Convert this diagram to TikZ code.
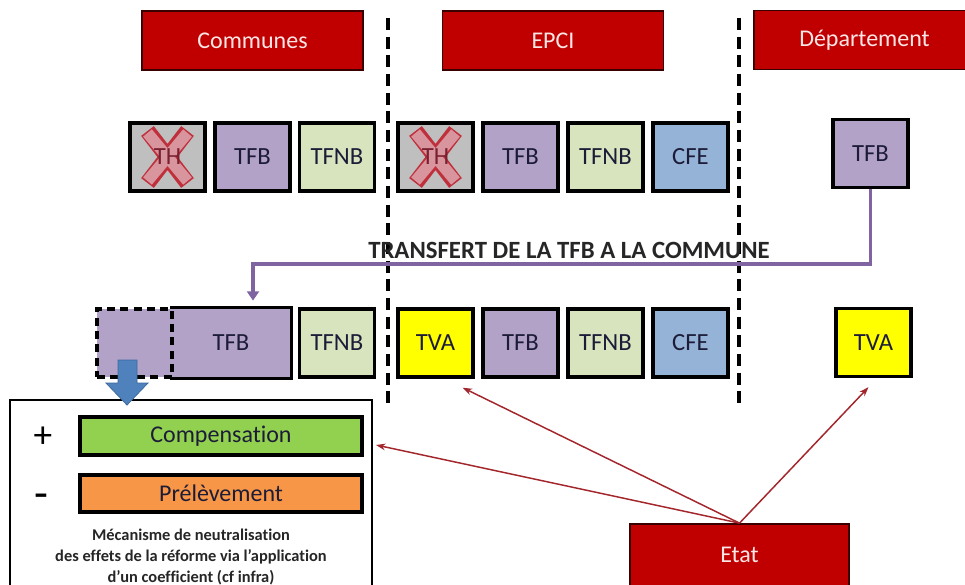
\documentclass[tikz,border=0pt]{standalone}
\usepackage{fontspec}
\setmainfont{Carlito}[Ligatures=NoCommon]
\usetikzlibrary{arrows.meta,calc}
\definecolor{hdr}{HTML}{C00000}
\definecolor{hdrdark}{HTML}{3A0000}
\definecolor{hdrtxt}{HTML}{FBE6E6}
\definecolor{tfbc}{HTML}{B3A2C7}
\definecolor{tfnbc}{HTML}{D7E4BD}
\definecolor{cfec}{HTML}{95B3D7}
\definecolor{tvac}{HTML}{FFFF00}
\definecolor{thc}{HTML}{BFBFBF}
\definecolor{compc}{HTML}{92D050}
\definecolor{prelc}{HTML}{F79646}
\definecolor{bluec}{HTML}{4F81BD}
\definecolor{bluedark}{HTML}{3C6A9E}
\definecolor{purpline}{HTML}{8064A2}
\definecolor{redarrow}{HTML}{A3262C}
\definecolor{txtc}{HTML}{1C1C38}
\definecolor{xred}{HTML}{C0303C}
\definecolor{xpink}{HTML}{D9959D}
\definecolor{thtxt}{HTML}{7A2030}
\tikzset{
  header/.style={fill=hdr, draw=hdrdark, line width=1.3pt, minimum width=165.75pt, minimum height=44.25pt, inner sep=0pt, text=hdrtxt, font=\fontsize{18}{21}\selectfont},
  taxbox/.style={draw=black, line width=2.6pt, minimum width=56.25pt, minimum height=51pt, inner sep=0pt, text=txtc, font=\fontsize{18.5}{21}\selectfont},
  sepline/.style={line width=2.3pt, dash pattern=on 9pt off 5pt},
  purparrow/.style={draw=purpline, line width=2.3pt, -{Triangle[width=9pt,length=7pt]}},
  redarr/.style={draw=redarrow, line width=1.1pt, -{Stealth[width=5pt,length=7pt]}},
  bigbar/.style={draw=black, line width=2.4pt, minimum width=211.5pt, inner sep=0pt, text=txtc, font=\fontsize{18}{21}\selectfont},
}
\begin{document}
\begin{tikzpicture}[x=0.75pt,y=-0.75pt]
\useasboundingbox (0,0) rectangle (965,585);
\clip (0,0) rectangle (965,585);
\fill[white] (0,0) rectangle (965,585);

% separators
\draw[sepline] (388,18) -- (388,403);
\draw[sepline] (739,18) -- (739,405);

% headers
\node[header] (communes) at (252.5,40.5) {Communes};
\node[header] (epci) at (553,40.5) {EPCI};
\node[header] (dept) at (864.5,40) {Département};

% row 1
\node[taxbox, fill=thc] (th1) at (167.5,157) {};
\node[taxbox, fill=tfbc] (tfb1) at (252.5,157) {TFB};
\node[taxbox, fill=tfnbc] (tfnb1) at (337,157) {TFNB};
\node[taxbox, fill=thc] (th2) at (435.5,157) {};
\node[taxbox, fill=tfbc] (tfb2) at (520.5,157) {TFB};
\node[taxbox, fill=tfnbc] (tfnb2) at (605.5,157) {TFNB};
\node[taxbox, fill=cfec] (cfe1) at (690.5,157) {CFE};
\node[taxbox, fill=tfbc] (dtfb) at (870.5,153.5) {TFB};

% crosses over TH
\foreach \c in {th1,th2}{
  \draw[xred, line width=12pt] ($(\c)+(-20,-26)$) -- ($(\c)+(20,26)$) ($(\c)+(20,-26)$) -- ($(\c)+(-20,26)$);
  \draw[xpink, line width=8.5pt] ($(\c)+(-20,-24)$) -- ($(\c)+(20,24)$) ($(\c)+(20,-24)$) -- ($(\c)+(-20,24)$);
  \node[text=thtxt, font=\fontsize{18.5}{21}\selectfont] at (\c) {TH};
}

% row 2
\node[taxbox, draw=none, fill=tfbc, minimum width=88.5pt] (ctfb) at (231,343) {TFB};
\draw[black, line width=2.6pt] (ctfb.north west) -- (ctfb.north east) -- (ctfb.south east) -- (ctfb.south west);
\node[taxbox, fill=tfbc, dash pattern=on 6pt off 4pt] (ctfbd) at (134.5,343) {};
\node[taxbox, fill=tfnbc] (tfnb3) at (337,343) {TFNB};
\node[taxbox, fill=tvac] (tva1) at (435.5,343) {TVA};
\node[taxbox, fill=tfbc] (tfb3) at (520.5,343) {TFB};
\node[taxbox, fill=tfnbc] (tfnb4) at (605.5,343) {TFNB};
\node[taxbox, fill=cfec] (cfe2) at (690.5,343) {CFE};
\node[taxbox, fill=tvac] (dtva) at (873.5,342.5) {TVA};

% transfer
\coordinate (turn) at (253,264);
\draw[purparrow, shorten >=5pt] (dtfb.south) |- (turn) -- (turn |- ctfb.north);
\node[font=\bfseries\fontsize{18.6}{21}\selectfont, text=black!85] (transfert) at (569,250) {TRANSFERT DE LA TFB A LA COMMUNE};

% neutralisation box
\node[draw=black, line width=1.6pt, fill=white, minimum width=271.5pt, minimum height=142.5pt, inner sep=0pt] (neutral) at (191,495) {};
\node[bigbar, fill=compc, minimum height=28.5pt] (comp) at (221,436) {Compensation};
\node[bigbar, fill=prelc, minimum height=27.75pt] (prel) at (221,493.5) {Prélèvement};
\node[font=\fontsize{28}{30}\selectfont] (plus) at (43,437) {+};
\node[font=\fontsize{34}{36}\selectfont] (minus) at (41,501) {-};
\node[font=\bfseries\fontsize{12.3}{16}\selectfont, align=center, text=black!85, anchor=north] (mecan) at (191,524) {Mécanisme de neutralisation\\des effets de la réforme via l’application\\d’un coefficient (cf infra)};

% blue block arrow
\filldraw[fill=bluec, draw=bluedark, line width=0.6pt] (118,360) -- (137,360) -- (137,383) -- (148,383) -- (127,405) -- (106,383) -- (118,383) -- cycle;

% Etat
\node[header, minimum width=164.25pt, minimum height=46.5pt] (etat) at (739.5,555) {Etat};

% state arrows
\draw[redarr] (etat.north) -- ($(neutral.east |- comp.east)+(3,9)$);
\draw[redarr] (etat.north) -- ($(tva1.south east)+(-12,9)$);
\draw[redarr] (etat.north) -- ($(dtva.south)+(-5,9)$);
\end{tikzpicture}
\end{document}
